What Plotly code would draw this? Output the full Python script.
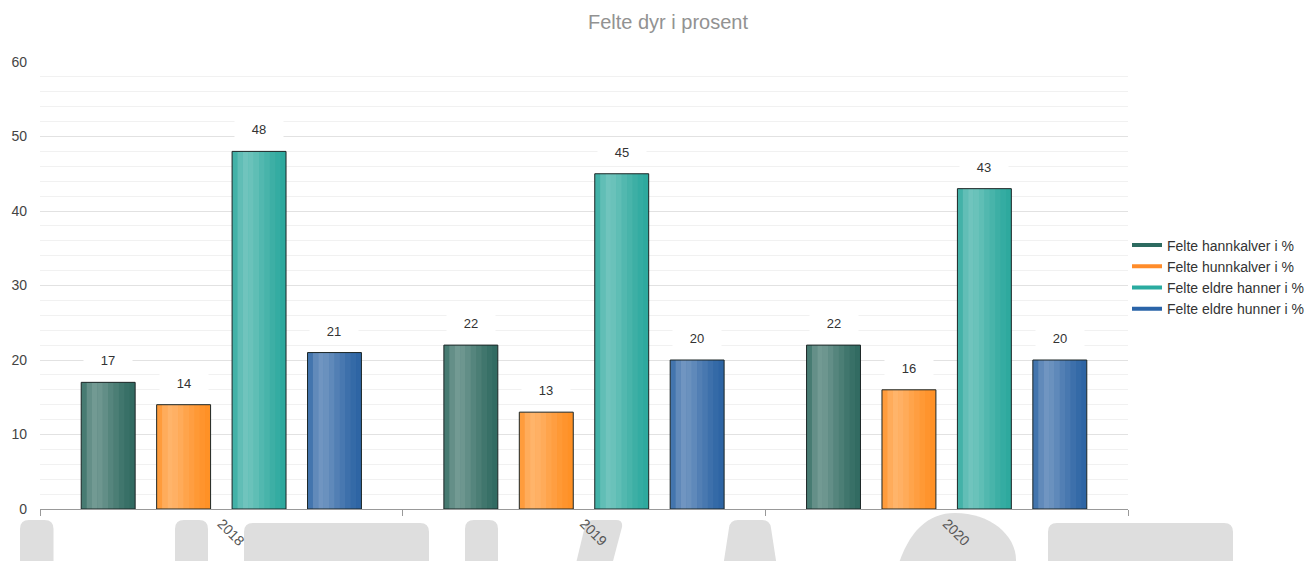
import plotly.graph_objects as go

# ---------------- data ----------------
years = ["2018", "2019", "2020"]
series_names = ["Felte hannkalver i %", "Felte hunnkalver i %",
                "Felte eldre hanner i %", "Felte eldre hunner i %"]
hannkalver = [17, 22, 22]
hunnkalver = [14, 13, 16]
eldre_hanner = [48, 45, 43]
eldre_hunner = [21, 20, 20]
series_values = [hannkalver, hunnkalver, eldre_hanner, eldre_hunner]

base_colors = ["#2e695f", "#ff8f22", "#2aa89d", "#2a62a3"]
legend_colors = ["#2d6b60", "#ff8c2a", "#2aaba0", "#2a64a8"]

# ---------------- geometry ----------------
W, H = 1316, 561
OFF = 8                      # page body margin of the browser
SL, SR, ST, SB = 40, 1128, 62, 509   # plot area in screen pixels
L, R, T, B = SL - OFF, SR - OFF, ST - OFF, SB - OFF

GROUP = 0.832                 # fraction of category used by the group
GROUPGAP = 0.285              # gap between bars inside group
n_series = len(series_names)
slot = GROUP / n_series
bar_w = slot * (1 - GROUPGAP)

# highlight profile across a bar (white overlay opacity), left -> right
highlight = [0.12, 0.26, 0.33, 0.30, 0.25, 0.19, 0.14, 0.09, 0.05, 0.02]
n_strips = len(highlight)
strip_w = bar_w / n_strips

fig = go.Figure()
annotations = []
for i, (name, vals, col) in enumerate(zip(series_names, series_values, base_colors)):
    off = -GROUP / 2 + i * slot + slot * GROUPGAP / 2
    fig.add_trace(go.Bar(x=years, y=vals, width=bar_w, offset=off, showlegend=False,
                         marker=dict(color=col, line=dict(width=0)), hoverinfo="skip"))
    for k, a in enumerate(highlight):
        fig.add_trace(go.Bar(x=years, y=vals, width=strip_w, offset=off + k * strip_w,
                             showlegend=False, hoverinfo="skip",
                             marker=dict(color=f"rgba(255,255,255,{a})", line=dict(width=0))))
    fig.add_trace(go.Bar(
        x=years, y=vals, name=name, width=bar_w, offset=off, showlegend=False,
        marker=dict(color="rgba(0,0,0,0)", line=dict(color="#1c2626", width=1)),
    ))
    # data labels with white background, centred above each bar
    for j, v in enumerate(vals):
        annotations.append(dict(
            x=j + off + bar_w / 2, y=v, xref="x", yref="y", text=str(v),
            showarrow=False, yshift=22, yanchor="middle", xanchor="center",
            bgcolor="white", width=46, height=18,
            font=dict(size=13, color="#333333", family="Arial, Liberation Sans"),
        ))

# legend entries drawn as short lines
for name, col in zip(series_names, legend_colors):
    fig.add_trace(go.Scatter(x=[None], y=[None], mode="lines", name=name,
                             line=dict(color=col, width=4)))

# decorative grey watermark shapes below the axis (screen pixel -> paper)
def px(x):
    return (x - OFF - L) / (R - L)

def py(y):
    return (B - (y - OFF)) / (B - T)

def path(cmds):
    out = []
    for c in cmds:
        if isinstance(c, str):
            out.append(c)
        else:
            out.append(f"{px(c[0]):.5f},{py(c[1]):.5f}")
    return " ".join(out)

def rounded_top_rect(x0, x1, top, r=8, bottom=580):
    return path(["M", (x0, bottom), "L", (x0, top + r), "Q", (x0, top), (x0 + r, top),
                 "L", (x1 - r, top), "Q", (x1, top), (x1, top + r), "L", (x1, bottom), "Z"])

grey = "#dedede"
shape_paths = [
    rounded_top_rect(20, 53.5, 520, 9),
    rounded_top_rect(175, 208, 520, 9),
    rounded_top_rect(244, 429, 523, 9),
    rounded_top_rect(465, 498, 520, 9),
    path(["M", (572, 580), "L", (585, 526), "Q", (587, 520), (594, 520), "L", (616, 520),
          "Q", (623, 520), (622, 527), "L", (608, 580), "Z"]),
    path(["M", (721, 580), "L", (729, 528), "Q", (730, 520), (738, 520), "L", (762, 520),
          "Q", (770, 520), (771, 528), "L", (779, 580), "Z"]),
    path(["M", (894, 580), "C", (905, 535), (925, 513), (955, 513), "C", (990, 513), (1016, 535),
          (1016, 560), "L", (1016, 580), "Z"]),
    rounded_top_rect(1048, 1233, 523, 9),
]
shapes = [dict(type="path", xref="paper", yref="paper", path=p, fillcolor=grey,
               line=dict(width=0), layer="below") for p in shape_paths]

fig.update_layout(
    width=W, height=H, autosize=False,
    margin=dict(l=L, r=W - R, t=T, b=H - B, pad=0, autoexpand=False),
    paper_bgcolor="white", plot_bgcolor="white",
    font=dict(family="Arial, Liberation Sans, sans-serif", color="#444444", size=14),
    title=dict(text="Felte dyr i prosent", x=(668 - OFF) / W, xanchor="center",
               y=1 - (22 - OFF) / H, yanchor="middle", yref="container",
               font=dict(size=20, color="#929292")),
    barmode="overlay",
    shapes=shapes,
    annotations=annotations,
    legend=dict(xref="container", yref="container",
                x=(1127 - OFF) / W, xanchor="left",
                y=1 - (277 - OFF) / H, yanchor="middle",
                font=dict(size=14, color="#333333"), bgcolor="rgba(0,0,0,0)",
                tracegroupgap=0, itemwidth=30),
    xaxis=dict(showline=True, linecolor="#999999", linewidth=1, automargin=False,
               ticks="outside", tickson="boundaries", ticklen=6, tickcolor="#999999",
               tickangle=45, tickfont=dict(size=14, color="#555555"),
               showgrid=False, zeroline=False, range=[-0.5, 2.5]),
    yaxis=dict(range=[0, 60], dtick=10, showgrid=True, gridcolor="#e2e2e2", automargin=False,
               minor=dict(dtick=2, showgrid=True, gridcolor="#f1f1f1"),
               zeroline=False, showline=False, ticks="",
               ticklabelstandoff=12, tickfont=dict(size=14, color="#444444")),
)

fig.write_html("out.html")
